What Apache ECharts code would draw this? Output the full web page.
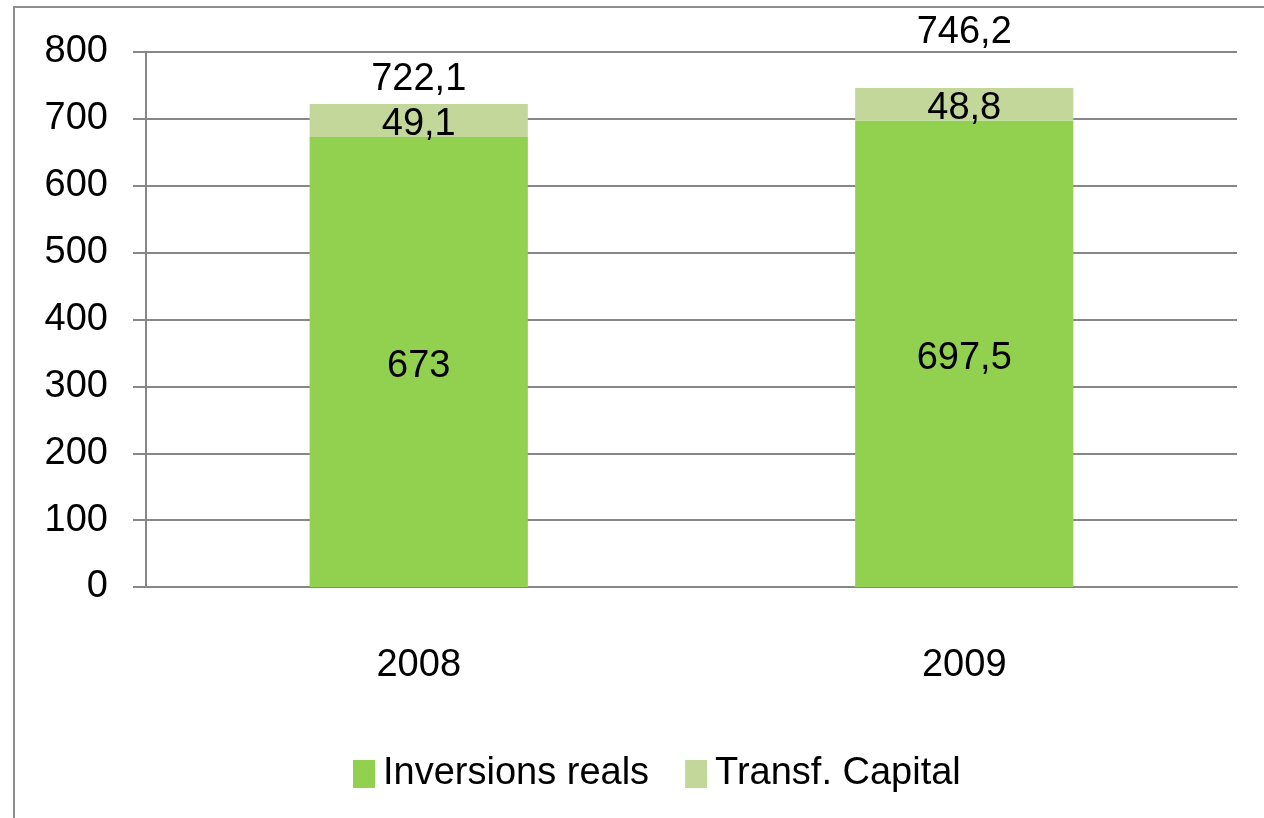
<!DOCTYPE html>
<html>
<head>
<meta charset="utf-8">
<script src="https://cdn.jsdelivr.net/npm/echarts@6/dist/echarts.min.js"></script>
<style>
  html, body { margin: 0; padding: 0; background: #fff; }
  #chart { width: 1264px; height: 818px; }
</style>
</head>
<body>
<div id="chart"></div>
<script>
// dades
const years = ["2008", "2009"];
const inversionsReals = [673, 697.5];
const transfCapital = [49.1, 48.8];
const totals = [722.1, 746.2];
const yTicks = [0, 100, 200, 300, 400, 500, 600, 700, 800];

const font = "'Liberation Sans', sans-serif";
const gray = "#878787";
const comma = (v) => String(v).replace(".", ",");

const chart = echarts.init(document.getElementById("chart"));
chart.setOption({
  animation: false,
  textStyle: { fontFamily: font },
  graphic: [
    {
      type: "rect",
      shape: { x: 14, y: 7, width: 1300, height: 900 },
      style: { fill: "none", stroke: "#8f8f8f", lineWidth: 2 },
      silent: true,
    },
  ],
  grid: { left: 146, right: 27, top: 52, bottom: 231 },
  legend: {
    left: 348,
    top: 750,
    data: ["Inversions reals", "Transf. Capital"],
    icon: "rect",
    itemWidth: 22,
    itemHeight: 28,
    itemGap: 36,
    textStyle: {
      fontFamily: font,
      fontSize: 38,
      color: "#000",
      padding: [0, 0, 0, 3],
    },
  },
  xAxis: {
    type: "category",
    data: years,
    axisLine: { lineStyle: { color: gray, width: 2 } },
    axisTick: { length: 14, lineStyle: { color: gray, width: 2 } },
    axisLabel: { margin: 60, fontSize: 38, color: "#000", fontFamily: font },
  },
  yAxis: {
    type: "value",
    min: yTicks[0],
    max: yTicks[yTicks.length - 1],
    interval: 100,
    axisLine: { show: true, lineStyle: { color: gray, width: 2 } },
    axisTick: { show: true, length: 13, lineStyle: { color: gray, width: 2 } },
    splitLine: { lineStyle: { color: gray, width: 2 } },
    axisLabel: { margin: 38, fontSize: 38, color: "#000", fontFamily: font },
  },
  series: [
    {
      name: "Inversions reals",
      type: "bar",
      stack: "t",
      barWidth: "40%",
      data: inversionsReals,
      itemStyle: { color: "#92D050" },
      label: {
        show: true,
        position: "inside",
        offset: [0, 5],
        fontSize: 38,
        color: "#000",
        fontFamily: font,
        formatter: (p) => comma(p.value),
      },
    },
    {
      name: "Transf. Capital",
      type: "bar",
      stack: "t",
      barWidth: "40%",
      data: transfCapital,
      itemStyle: { color: "#C4D79B" },
      label: {
        show: true,
        position: "inside",
        offset: [0, 4],
        fontSize: 38,
        color: "#000",
        fontFamily: font,
        formatter: (p) => comma(p.value),
      },
    },
    {
      name: "Total",
      type: "scatter",
      symbolSize: 0,
      silent: true,
      itemStyle: { opacity: 1 },
      data: totals.map((v, i) => ({
        value: v,
        label: { offset: [0, i === 1 ? -30 : 0] },
      })),
      label: {
        show: true,
        position: "top",
        distance: 6,
        fontSize: 38,
        color: "#000",
        fontFamily: font,
        formatter: (p) => comma(p.value),
      },
    },
  ],
});
</script>
</body>
</html>
